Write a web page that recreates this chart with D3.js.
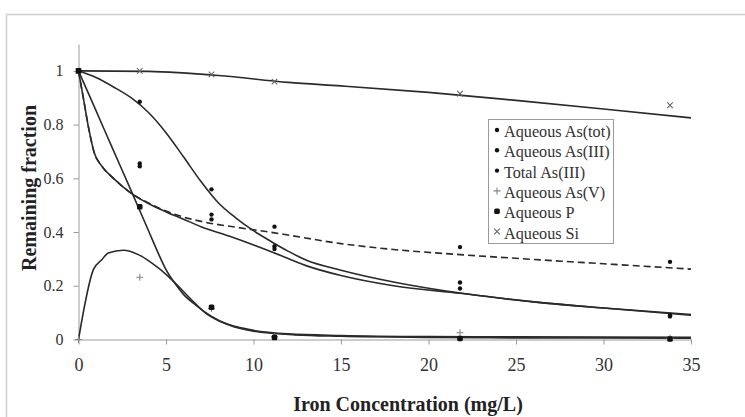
<!DOCTYPE html>
<html>
<head>
<meta charset="utf-8">
<script src="https://cdn.jsdelivr.net/npm/d3@7"></script>
<style>
  body { margin: 0; background: #fff; }
  svg { display: block; font-family: 'Liberation Serif', 'Times New Roman', serif; }
  .axis path, .axis line { stroke: #9a9a9a; }
  .axis text { font-family: 'Liberation Serif', serif; fill: #333; }
  .title { font-weight: bold; font-size: 20px; fill: #222; }
  .fit { fill: none; stroke: #2a2a2a; stroke-width: 1.6; }
</style>
</head>
<body>
<div id="chart"></div>
<script>
// measured points
const ironConc = [0, 3.5, 7.6, 11.2, 21.8, 33.8]
const asTot = [1, 0.885, 0.559, 0.347, 0.212, 0.09]
const asIII = [1, 0.645, 0.447, 0.337, 0.19, 0.086]
const totalAsIII = [1, 0.655, 0.465, 0.42, 0.344, 0.289]
const asV = [0, 0.232, 0.115, 0.01, 0.025, 0.005]
const pAq = [1, 0.494, 0.12, 0.008, 0.004, 0.002]
const siAq = [1, 1.0, 0.987, 0.96, 0.915, 0.872]

// model curves
const fitSiX = [0, 4, 8, 12, 15, 20, 25, 30, 35]
const fitSiY = [1, 0.998, 0.983, 0.957, 0.944, 0.92, 0.89, 0.858, 0.825]
const fitTotX = [0, 1, 2, 3, 4, 5, 6, 7, 8, 9, 10, 11, 12, 13, 15, 18, 22, 26, 30, 35]
const fitTotY = [1, 0.975, 0.94, 0.9, 0.845, 0.77, 0.68, 0.588, 0.508, 0.452, 0.405, 0.365, 0.328, 0.296, 0.258, 0.214, 0.171, 0.14, 0.117, 0.093]
const fitTotalAsIIIX = [0, 0.3, 0.6, 0.9, 1.3, 2, 3, 4, 5.5, 7.2, 9, 11.2, 15, 18, 21.8, 26, 30, 35]
const fitTotalAsIIIY = [1, 0.89, 0.78, 0.695, 0.648, 0.6, 0.545, 0.508, 0.466, 0.437, 0.418, 0.397, 0.357, 0.335, 0.316, 0.298, 0.282, 0.262]
const fitAsIIIX = [0, 0.3, 0.6, 0.9, 1.3, 2, 3, 4, 5, 6, 7, 8.6, 11.2, 13, 15, 18, 21.8, 26, 30, 35]
const fitAsIIIY = [1, 0.89, 0.78, 0.695, 0.648, 0.6, 0.545, 0.506, 0.475, 0.448, 0.42, 0.385, 0.322, 0.275, 0.238, 0.2, 0.172, 0.14, 0.117, 0.09]
const fitPX = [0, 1, 2, 3, 4, 4.6, 5, 5.5, 6, 6.7, 7.6, 8.6, 10, 12.4, 15, 20, 25, 35]
const fitPY = [1, 0.852, 0.703, 0.555, 0.405, 0.315, 0.26, 0.21, 0.168, 0.128, 0.086, 0.054, 0.031, 0.017, 0.012, 0.008, 0.006, 0.005]
const fitAsVX = [0, 0.85, 1.33, 1.7, 2.56, 3.42, 4.18, 5.13, 5.9, 6.66, 7.23, 8, 9, 10, 12, 15, 20, 25, 35]
const fitAsVY = [0, 0.26, 0.297, 0.322, 0.332, 0.316, 0.285, 0.235, 0.185, 0.135, 0.1, 0.07, 0.048, 0.034, 0.021, 0.015, 0.011, 0.01, 0.008]

const xTicks = [0, 5, 10, 15, 20, 25, 30, 35]
const yTicks = [0, 0.2, 0.4, 0.6, 0.8, 1]
const legendLabels = ['Aqueous As(tot)', 'Aqueous As(III)', 'Total As(III)', 'Aqueous As(V)', 'Aqueous P', 'Aqueous Si']
const legendMarks = ['dot', 'dot', 'dot', 'plus', 'bigdot', 'cross']

const dms = {
    width: 745,
    height: 417,
    margin: { top: 44, right: 54, bottom: 78, left: 78.5 }
}
dms.contentWidth = dms.width - dms.margin.left - dms.margin.right
dms.contentHeight = 339.5 - dms.margin.top

const box = d3.select('#chart').append('svg')
    .attr('width', dms.width)
    .attr('height', dms.height)

// outer frame
box.append('rect')
    .attr('x', 6.5).attr('y', 14.5)
    .attr('width', 760).attr('height', 430)
    .attr('fill', '#fff')
    .attr('stroke', '#cfcfcf')
    .attr('stroke-width', 1.5)

const content = box.append('g')
    .attr('transform', `translate(${dms.margin.left},${dms.margin.top})`)

const xScale = d3.scaleLinear()
    .domain([0, 35])
    .range([0, dms.contentWidth])

const yScale = d3.scaleLinear()
    .domain([0, 1.1])
    .range([dms.contentHeight, 0])

const xAxis = content.append('g')
    .attr('class', 'axis')
    .attr('transform', `translate(0,${dms.contentHeight})`)
    .call(d3.axisBottom(xScale).tickValues(xTicks).tickSize(5).tickSizeOuter(0).tickPadding(14))
xAxis.selectAll('text').attr('font-size', 18)

const yAxis = content.append('g')
    .attr('class', 'axis')
    .call(d3.axisLeft(yScale).tickValues(yTicks).tickSize(5).tickSizeOuter(0).tickPadding(10)
        .tickFormat(d => d))
yAxis.selectAll('text').attr('font-size', 16)

box.append('text')
    .attr('class', 'title')
    .attr('x', 408)
    .attr('y', 411)
    .attr('font-size', 21)
    .attr('text-anchor', 'middle')
    .text('Iron Concentration (mg/L)')

box.append('text')
    .attr('class', 'title')
    .attr('transform', 'translate(36,188) rotate(-90)')
    .attr('text-anchor', 'middle')
    .text('Remaining fraction')

// model curves
const line = d3.line()
    .x(d => xScale(d[0]))
    .y(d => yScale(d[1]))
    .curve(d3.curveMonotoneX)

const fits = [
    { xs: fitTotalAsIIIX, ys: fitTotalAsIIIY, dash: '7,4' },
    { xs: fitSiX, ys: fitSiY },
    { xs: fitTotX, ys: fitTotY },
    { xs: fitAsIIIX, ys: fitAsIIIY },
    { xs: fitPX, ys: fitPY },
    { xs: fitAsVX, ys: fitAsVY }
]

content.selectAll('path.fit')
    .data(fits)
    .join('path')
    .attr('class', 'fit')
    .attr('stroke-dasharray', d => d.dash || null)
    .attr('d', d => line(d.xs.map((x, i) => [x, d.ys[i]])))

// markers
function drawMark(g, type) {
    if (type === 'dot') {
        g.append('circle').attr('r', 2.2).attr('fill', '#111')
    } else if (type === 'bigdot') {
        g.append('rect').attr('x', -2.8).attr('y', -2.8).attr('width', 5.6).attr('height', 5.6)
            .attr('rx', 1.5).attr('fill', '#111')
    } else if (type === 'plus') {
        g.append('path').attr('d', 'M-3.5,0H3.5M0,-3.5V3.5')
            .attr('stroke', '#888').attr('stroke-width', 1.1)
    } else if (type === 'cross') {
        g.append('path').attr('d', 'M-2.8,-2.8L2.8,2.8M-2.8,2.8L2.8,-2.8')
            .attr('stroke', '#666').attr('stroke-width', 1.1)
    }
}

const pointSets = [
    { vals: siAq, mark: 'cross' },
    { vals: asV, mark: 'plus' },
    { vals: asTot, mark: 'dot' },
    { vals: asIII, mark: 'dot' },
    { vals: totalAsIII, mark: 'dot' },
    { vals: pAq, mark: 'bigdot' }
]

pointSets.forEach(set => {
    content.append('g').selectAll('g')
        .data(set.vals)
        .join('g')
        .attr('transform', (d, i) => `translate(${xScale(ironConc[i])},${yScale(d)})`)
        .each(function () { drawMark(d3.select(this), set.mark) })
})

// legend
const legend = box.append('g')
    .attr('transform', 'translate(488,119)')

legend.append('rect')
    .attr('x', 0.5).attr('y', 0.5)
    .attr('width', 125).attr('height', 124)
    .attr('fill', '#fff')
    .attr('stroke', '#9a9a9a')

const rows = legend.selectAll('g.row')
    .data(legendLabels)
    .join('g')
    .attr('class', 'row')
    .attr('transform', (d, i) => `translate(0,${13 + i * 20.3})`)

rows.each(function (d, i) {
    const g = d3.select(this).append('g').attr('transform', 'translate(9,-2)')
    drawMark(g, legendMarks[i])
})

rows.append('text')
    .attr('x', 16)
    .attr('y', 5)
    .attr('font-size', 16.2)
    .attr('fill', '#333')
    .text(d => d)
</script>
</body>
</html>
